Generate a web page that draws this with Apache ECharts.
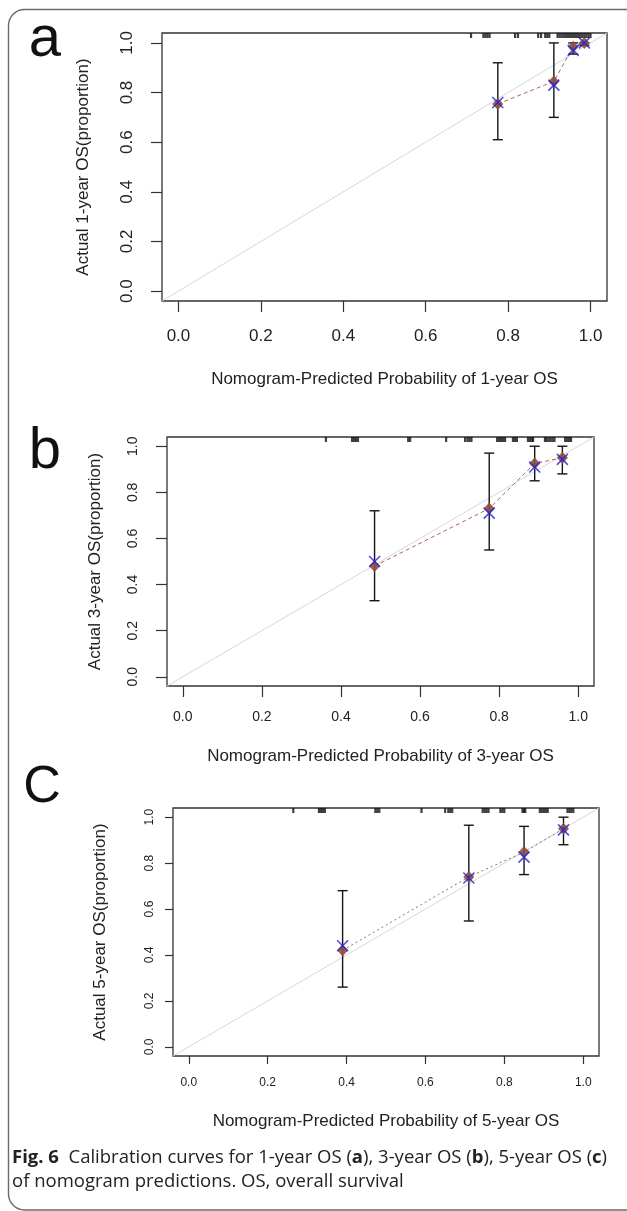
<!DOCTYPE html>
<html><head><meta charset="utf-8">
<script src="https://cdn.jsdelivr.net/npm/echarts@6/dist/echarts.min.js"></script>
<style>html,body{margin:0;padding:0;background:#fff}#c{width:627px;height:1211px}</style>
</head><body><div id="c"></div>
<script>
// ---- data ----
const tickValues = [0, 0.2, 0.4, 0.6, 0.8, 1.0];
const axisMin = -0.04, axisMax = 1.04;

const predA = [0.775, 0.911, 0.958, 0.985];
const obsA  = [0.754, 0.845, 0.985, 1.0];
const corrA = [0.76, 0.83, 0.97, 1.0];
const loA   = [0.61, 0.70, 0.955, 0.99];
const hiA   = [0.92, 1.0, 1.0, 1.0];
const rugA  = [0.71, 0.74, 0.745, 0.75, 0.755, 0.817, 0.824, 0.873, 0.88, 0.89, 0.895, 0.90,
  0.92, 0.925, 0.93, 0.935, 0.94, 0.945, 0.95, 0.955, 0.96, 0.965, 0.97, 0.975, 0.98, 0.985, 0.99, 0.995, 1.0];

const predB = [0.485, 0.775, 0.89, 0.96];
const obsB  = [0.48, 0.73, 0.925, 0.95];
const corrB = [0.50, 0.71, 0.91, 0.943];
const loB   = [0.33, 0.55, 0.85, 0.88];
const hiB   = [0.72, 0.97, 1.0, 1.0];
const rugB  = [0.362, 0.428, 0.433, 0.438, 0.443, 0.57, 0.575, 0.666, 0.714, 0.72, 0.725, 0.73,
  0.795, 0.80, 0.805, 0.81, 0.815, 0.835, 0.84, 0.845, 0.873, 0.878, 0.883, 0.886,
  0.916, 0.92, 0.925, 0.93, 0.935, 0.94, 0.967, 0.972, 0.977, 0.982];

const predC = [0.39, 0.71, 0.85, 0.95];
const obsC  = [0.42, 0.74, 0.848, 0.95];
const corrC = [0.44, 0.735, 0.826, 0.945];
const loC   = [0.26, 0.548, 0.75, 0.88];
const hiC   = [0.68, 0.965, 0.96, 1.0];
const rugC  = [0.265, 0.33, 0.335, 0.34, 0.345, 0.473, 0.478, 0.483, 0.59, 0.65, 0.658, 0.663, 0.668,
  0.745, 0.75, 0.755, 0.76, 0.79, 0.795, 0.80, 0.846, 0.85, 0.853, 0.89, 0.895, 0.90, 0.905, 0.91,
  0.96, 0.965, 0.97, 0.975];

const xTitles = ['Nomogram-Predicted Probability of 1-year OS', 'Nomogram-Predicted Probability of 3-year OS', 'Nomogram-Predicted Probability of 5-year OS'];
const yTitles = ['Actual 1-year OS(proportion)', 'Actual 3-year OS(proportion)', 'Actual 5-year OS(proportion)'];
const panelLetters = ['a', 'b', 'C'];

// ---- layout ----
const FONT = '"Liberation Sans", Arial, sans-serif';
const panels = [
  {pred: predA, obs: obsA, corr: corrA, lo: loA, hi: hiA, rug: rugA,
   grid: {left: 162, top: 33, width: 445, height: 268}, tickFont: 17, tickLen: 11, xMargin: 27, yMargin: 26, xGap: 70, yGap: 70, dash: [4, 3]},
  {pred: predB, obs: obsB, corr: corrB, lo: loB, hi: hiB, rug: rugB,
   grid: {left: 167, top: 437, width: 427, height: 249}, tickFont: 14, tickLen: 11, xMargin: 24, yMargin: 27, xGap: 62, yGap: 63, dash: [4, 3]},
  {pred: predC, obs: obsC, corr: corrC, lo: loC, hi: hiC, rug: rugC,
   grid: {left: 173, top: 808, width: 426, height: 248}, tickFont: 12, tickLen: 8, xMargin: 21, yMargin: 17, xGap: 57, yGap: 64, dash: [2, 3]}
];

const grids = [], xAxes = [], yAxes = [], series = [];
panels.forEach((p, i) => {
  grids.push(Object.assign({show: true, borderColor: '#333', borderWidth: 1.3, backgroundColor: 'transparent'}, p.grid));
  const common = {
    gridIndex: i, type: 'value', min: axisMin, max: axisMax,
    axisLine: {show: false, onZero: false}, splitLine: {show: false},
    axisTick: {show: true, inside: false, length: p.tickLen, customValues: tickValues, lineStyle: {color: '#333', width: 1.2}},
    nameLocation: 'middle', nameTextStyle: {fontFamily: FONT, fontSize: 17, color: '#222'}
  };
  xAxes.push(Object.assign({}, common, {
    position: 'bottom',
    axisLabel: {customValues: tickValues, margin: p.xMargin, fontFamily: FONT, fontSize: p.tickFont, color: '#222', formatter: v => v.toFixed(1)},
    name: xTitles[i], nameGap: p.xGap
  }));
  yAxes.push(Object.assign({}, common, {
    position: 'left',
    axisLabel: {customValues: tickValues, rotate: 90, margin: p.yMargin, fontFamily: FONT, fontSize: p.tickFont, color: '#222', formatter: v => v.toFixed(1)},
    name: yTitles[i], nameGap: p.yGap
  }));
  // ideal diagonal
  series.push({type: 'line', xAxisIndex: i, yAxisIndex: i, silent: true, symbol: 'none', z: 1,
    data: [[axisMin, axisMin], [axisMax, axisMax]], lineStyle: {color: '#d6d6d6', width: 1}});
  // connecting dashed line
  series.push({type: 'line', xAxisIndex: i, yAxisIndex: i, silent: true, symbol: 'none', z: 2,
    data: p.pred.map((x, k) => [x, p.obs[k]]), lineStyle: {color: '#a8675e', width: 1, type: p.dash}});
  // error bars
  series.push({type: 'custom', xAxisIndex: i, yAxisIndex: i, silent: true, z: 3,
    data: p.pred.map((x, k) => [x, p.lo[k], p.hi[k]]),
    encode: {x: 0, y: [1, 2]},
    renderItem: (params, api) => {
      const a = api.coord([api.value(0), api.value(1)]);
      const b = api.coord([api.value(0), api.value(2)]);
      const w = 5, st = {stroke: '#151515', lineWidth: 1.4};
      return {type: 'group', children: [
        {type: 'line', shape: {x1: a[0], y1: a[1], x2: b[0], y2: b[1]}, style: st},
        {type: 'line', shape: {x1: a[0] - w, y1: a[1], x2: a[0] + w, y2: a[1]}, style: st},
        {type: 'line', shape: {x1: b[0] - w, y1: b[1], x2: b[0] + w, y2: b[1]}, style: st}
      ]};
    }});
  // observed (diamonds)
  series.push({type: 'scatter', xAxisIndex: i, yAxisIndex: i, silent: true, z: 4, symbol: 'diamond', symbolSize: [11, 12],
    data: p.pred.map((x, k) => [x, p.obs[k]]), itemStyle: {color: '#8e4f3d', opacity: 0.9}});
  // bias-corrected (blue X)
  series.push({type: 'scatter', xAxisIndex: i, yAxisIndex: i, silent: true, z: 5, symbol: 'path://M0,0L10,10M10,0L0,10', symbolSize: 11,
    data: p.pred.map((x, k) => [x, p.corr[k]]), itemStyle: {color: 'none', borderColor: '#2323d8', borderWidth: 1.6}});
  // rug at top
  series.push({type: 'scatter', xAxisIndex: i, yAxisIndex: i, silent: true, z: 6, symbol: 'rect', symbolSize: [2.2, 5], symbolOffset: [0, 2.5],
    data: p.rug.map(x => [x, axisMax]), itemStyle: {color: '#111'}});
});

const chart = echarts.init(document.getElementById('c'), null, {renderer: 'canvas'});
chart.setOption({
  animation: false,
  backgroundColor: '#fff',
  grid: grids, xAxis: xAxes, yAxis: yAxes, series: series,
  graphic: [
    {type: 'rect', shape: {x: 8.5, y: 9.5, width: 640, height: 1200.5, r: 16}, style: {fill: 'none', stroke: '#6a6a6a', lineWidth: 1.4}, z: 0},
    {type: 'text', x: 45, y: 40, style: {text: panelLetters[0], font: '58px ' + FONT, fill: '#111', textAlign: 'center', textVerticalAlign: 'middle'}},
    {type: 'text', x: 45, y: 452, style: {text: panelLetters[1], font: '58px ' + FONT, fill: '#111', textAlign: 'center', textVerticalAlign: 'middle'}},
    {type: 'text', x: 42, y: 788, style: {text: panelLetters[2], font: '52px ' + FONT, fill: '#111', textAlign: 'center', textVerticalAlign: 'middle'}},
    {type: 'text', x: 12, y: 1146, style: {
      text: '{b|Fig. 6}  Calibration curves for 1-year OS ({b|a}), 3-year OS ({b|b}), 5-year OS ({b|c})\nof nomogram predictions. OS, overall survival',
      fontFamily: '"Open Sans", sans-serif', fontSize: 18.5, lineHeight: 24, fill: '#222',
      rich: {b: {fontFamily: '"Open Sans", sans-serif', fontSize: 18.5, fontWeight: 'bold', fill: '#222', lineHeight: 24}}
    }}
  ]
});
</script></body></html>
